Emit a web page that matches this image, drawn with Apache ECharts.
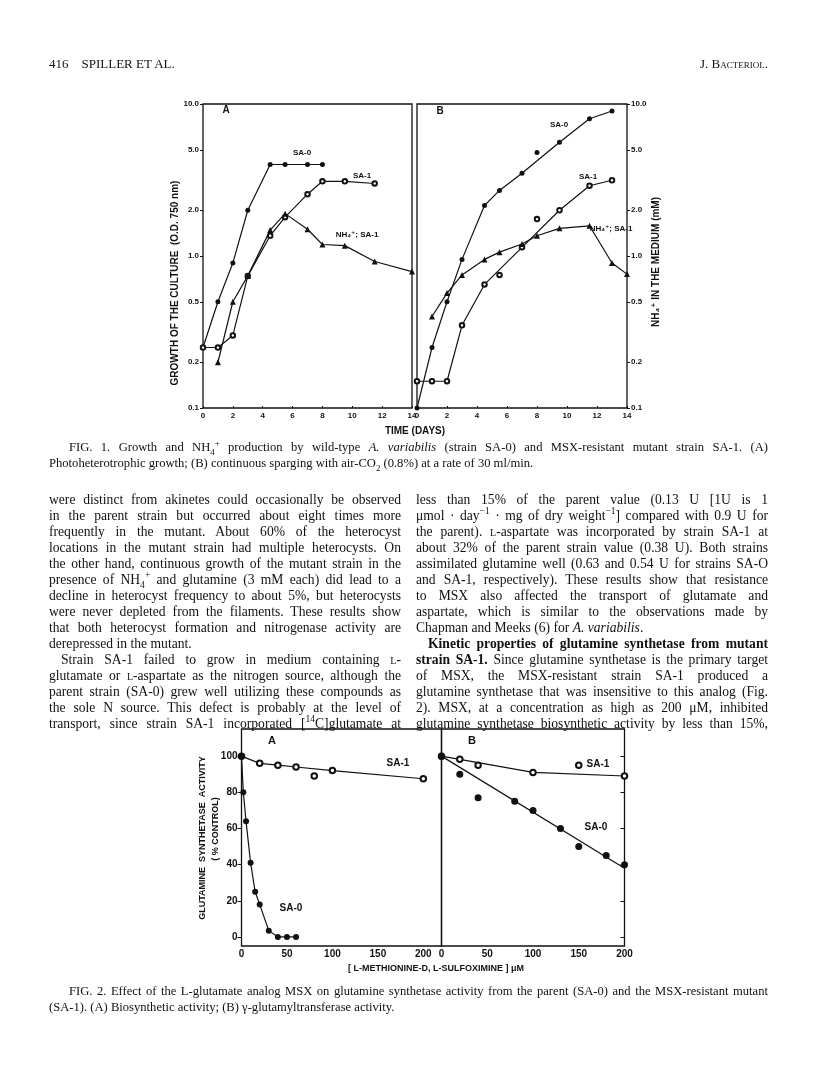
<!DOCTYPE html>
<html>
<head>
<meta charset="utf-8">
<script src="https://cdn.jsdelivr.net/npm/echarts@6.0.0/dist/echarts.min.js"></script>
<style>
body { margin: 0; background: #fff; }
#page { position: relative; width: 816px; height: 1076px; overflow: hidden; }
#main { position: absolute; left: 0; top: 0; width: 816px; height: 1076px; }
.txt { position: absolute; font-family: 'Liberation Serif', serif; color: #111; }
.col { font-size: 13.6px; width: 352px; }
.ln { height: 16px; line-height: 16px; text-align: justify; text-align-last: justify; white-space: nowrap; }
.end { text-align-last: left; }
.ind { text-indent: 12px; }
.cap { font-size: 12.6px; width: 719px; left: 49px; }
.sc { font-variant: small-caps; }
sub, sup { font-size: 70%; line-height: 0; }
</style>
</head>
<body>
<div id="page">
<div id="main"></div>

<div class="txt" style="left:49px;top:56px;font-size:13px;">416&nbsp;&nbsp;&nbsp;&nbsp;SPILLER ET AL.</div>
<div class="txt" style="right:48px;top:56px;font-size:13px;">J. B<span class="sc">acteriol</span>.</div>

<div class="txt cap" style="top:439px;">
<div class="ln" style="text-indent:20px;">FIG. 1. Growth and NH<sub>4</sub><sup>+</sup> production by wild-type <i>A. variabilis</i> (strain SA-0) and MSX-resistant mutant strain SA-1. (A)</div>
<div class="ln end">Photoheterotrophic growth; (B) continuous sparging with air-CO<sub>2</sub> (0.8%) at a rate of 30 ml/min.</div>
</div>

<div class="txt col" style="left:49px;top:492px;">
<div class="ln">were distinct from akinetes could occasionally be observed</div>
<div class="ln">in the parent strain but occurred about eight times more</div>
<div class="ln">frequently in the mutant. About 60% of the heterocyst</div>
<div class="ln">locations in the mutant strain had multiple heterocysts. On</div>
<div class="ln">the other hand, continuous growth of the mutant strain in the</div>
<div class="ln">presence of NH<sub>4</sub><sup>+</sup> and glutamine (3 mM each) did lead to a</div>
<div class="ln">decline in heterocyst frequency to about 5%, but heterocysts</div>
<div class="ln">were never depleted from the filaments. These results show</div>
<div class="ln">that both heterocyst formation and nitrogenase activity are</div>
<div class="ln end">derepressed in the mutant.</div>
<div class="ln ind">Strain SA-1 failed to grow in medium containing <span class="sc">l</span>-</div>
<div class="ln">glutamate or <span class="sc">l</span>-aspartate as the nitrogen source, although the</div>
<div class="ln">parent strain (SA-0) grew well utilizing these compounds as</div>
<div class="ln">the sole N source. This defect is probably at the level of</div>
<div class="ln">transport, since strain SA-1 incorporated [<sup>14</sup>C]glutamate at</div>
</div>

<div class="txt col" style="left:416px;top:492px;">
<div class="ln">less than 15% of the parent value (0.13 U [1U is 1</div>
<div class="ln">&mu;mol &middot; day<sup>&minus;1</sup> &middot; mg of dry weight<sup>&minus;1</sup>] compared with 0.9 U for</div>
<div class="ln">the parent). <span class="sc">l</span>-aspartate was incorporated by strain SA-1 at</div>
<div class="ln">about 32% of the parent strain value (0.38 U). Both strains</div>
<div class="ln">assimilated glutamine well (0.63 and 0.54 U for strains SA-O</div>
<div class="ln">and SA-1, respectively). These results show that resistance</div>
<div class="ln">to MSX also affected the transport of glutamate and</div>
<div class="ln">aspartate, which is similar to the observations made by</div>
<div class="ln end">Chapman and Meeks (6) for <i>A. variabilis</i>.</div>
<div class="ln ind"><b>Kinetic properties of glutamine synthetase from mutant</b></div>
<div class="ln"><b>strain SA-1.</b> Since glutamine synthetase is the primary target</div>
<div class="ln">of MSX, the MSX-resistant strain SA-1 produced a</div>
<div class="ln">glutamine synthetase that was insensitive to this analog (Fig.</div>
<div class="ln">2). MSX, at a concentration as high as 200 &mu;M, inhibited</div>
<div class="ln">glutamine synthetase biosynthetic activity by less than 15%,</div>
</div>

<div class="txt cap" style="top:983px;">
<div class="ln" style="text-indent:20px;">FIG. 2. Effect of the L-glutamate analog MSX on glutamine synthetase activity from the parent (SA-0) and the MSX-resistant mutant</div>
<div class="ln end">(SA-1). (A) Biosynthetic activity; (B) &gamma;-glutamyltransferase activity.</div>
</div>
</div>

<script>
// Fig 1 data: [day, value]
var a_sa0 = [[0,0.25],[1,0.5],[2,0.9],[3,2.0],[4.5,4.0],[5.5,4.0],[7,4.0],[8,4.0]];
var a_sa1 = [[0,0.25],[1,0.25],[2,0.3],[3,0.74],[4.5,1.36],[5.5,1.8],[7,2.55],[8,3.1],[9.5,3.1],[11.5,3.0]];
var a_nh4 = [[1,0.2],[2,0.5],[3,0.74],[4.5,1.48],[5.5,1.9],[7,1.5],[8,1.19],[9.5,1.17],[11.5,0.92],[14,0.79]];
var b_sa0 = [[0,0.1],[1,0.25],[2,0.5],[3,0.95],[4.5,2.15],[5.5,2.7],[7,3.5],[9.5,5.6],[11.5,8.0],[13,9.0]];
var b_sa0_off = [[8,4.8]];
var b_sa1 = [[0,0.15],[1,0.15],[2,0.15],[3,0.35],[4.5,0.65],[7,1.14],[9.5,2.0],[11.5,2.9],[13,3.15]];
var b_sa1_off = [[5.5,0.75],[8,1.75]];
var b_nh4 = [[1,0.4],[2,0.57],[3,0.75],[4.5,0.95],[5.5,1.06],[7,1.2],[8,1.36],[9.5,1.52],[11.5,1.58],[13,0.9],[14,0.76]];
var logTicks = [0.1,0.2,0.5,1,2,5,10];

// Fig 2 data: [uM MSX, % control]
var f2a_sa1 = [[0,100],[20,96],[40,95],[60,94],[100,92],[200,87.5]];
var f2a_sa1_off = [[80,89]];
var f2a_sa0 = [[0,100],[2,80],[5,64],[10,41],[15,25],[20,18],[30,3.5],[40,0],[50,0],[60,0]];
var f2b_sa1 = [[0,100],[20,98.3],[40,95],[100,91],[150,95],[200,89]];
var f2b_sa1_fit = [[0,100],[100,91],[200,89]];
var f2b_sa0 = [[0,100],[20,90],[40,77],[80,75],[100,70],[130,60],[150,50],[180,45],[200,40]];
var f2b_sa0_fit = [[0,100],[200,38]];
var pctTicks = [0,20,40,60,80,100];

var ink = '#111';
var sans = 'Liberation Sans, DejaVu Sans, sans-serif';

function label(x, y, text, size, rot) {
    return {
        type: 'text', x: x, y: y, rotation: rot || 0,
        style: { text: text, fill: ink, font: 'bold ' + (size || 9) + 'px ' + sans, align: 'center', verticalAlign: 'middle' }
    };
}
function lineS(xi, data, symbol, size) {
    return { type: 'line', xAxisIndex: xi, yAxisIndex: xi, data: data, symbol: symbol, symbolSize: size,
        showSymbol: true, lineStyle: { color: ink, width: 1.2 }, itemStyle: { color: ink, borderWidth: 1, opacity: 1 },
        emphasis: { disabled: true }, z: 3 };
}
function dotS(xi, data, symbol, size) {
    return { type: 'scatter', xAxisIndex: xi, yAxisIndex: xi, data: data, symbol: symbol, symbolSize: size,
        itemStyle: { color: ink, borderWidth: 1, opacity: 1 }, emphasis: { disabled: true }, z: 4 };
}
function fitS(xi, data) {
    return { type: 'line', xAxisIndex: xi, yAxisIndex: xi, data: data, symbol: 'none', lineStyle: { color: ink, width: 1.2 }, z: 2 };
}
var tickFont = { color: ink, fontFamily: sans, fontWeight: 'bold' };

function logAxis(gi, pos) {
    return {
        type: 'log', logBase: 10, gridIndex: gi, min: 0.1, max: 10, position: pos,
        axisLine: { show: false, onZero: false }, splitLine: { show: false },
        axisTick: { show: true, inside: false, length: 3, customValues: logTicks, lineStyle: { color: ink } },
        axisLabel: Object.assign({ fontSize: 8, margin: 4, customValues: logTicks,
            formatter: function (v) { return (+v).toFixed(1); } }, tickFont)
    };
}
function dayAxis(gi) {
    return {
        type: 'value', gridIndex: gi, min: 0, max: 14, interval: 2,
        axisLine: { show: false, onZero: false }, splitLine: { show: false },
        axisTick: { show: true, inside: true, length: 2, lineStyle: { color: ink } },
        axisLabel: Object.assign({ fontSize: 8, margin: 4 }, tickFont)
    };
}
function pctAxis(gi, pos, showLabel) {
    return {
        type: 'value', gridIndex: gi, min: -5, max: 115, position: pos,
        axisLine: { show: false, onZero: false }, splitLine: { show: false },
        axisTick: { show: true, inside: !showLabel, length: 4, customValues: pctTicks, lineStyle: { color: ink } },
        axisLabel: Object.assign({ show: showLabel, fontSize: 10, margin: 4, customValues: pctTicks }, tickFont)
    };
}
function concAxis(gi, max) {
    return {
        type: 'value', gridIndex: gi, min: 0, max: max, interval: 50,
        axisLine: { show: false, onZero: false }, splitLine: { show: false }, axisTick: { show: false },
        axisLabel: Object.assign({ fontSize: 10, margin: 3, showMaxLabel: max == 200 }, tickFont)
    };
}

var myChart = echarts.init(document.getElementById('main'), null, { renderer: 'canvas' });
var box = { show: true, borderColor: ink, borderWidth: 1.3, backgroundColor: 'transparent' };
option = {
    animation: false,
    grid: [
        Object.assign({ left: 203, top: 104, width: 209, height: 304 }, box),
        Object.assign({ left: 417, top: 104, width: 210, height: 304 }, box),
        Object.assign({ left: 241.5, top: 729, width: 200, height: 217 }, box),
        Object.assign({ left: 441.5, top: 729, width: 183, height: 217 }, box)
    ],
    xAxis: [dayAxis(0), dayAxis(1), concAxis(2, 220), concAxis(3, 200)],
    yAxis: [logAxis(0, 'left'), logAxis(1, 'right'), pctAxis(2, 'left', true), pctAxis(3, 'right', false)],
    series: [
        lineS(0, a_sa0, 'circle', 5),
        lineS(0, a_sa1, 'emptyCircle', 4.5),
        lineS(0, a_nh4, 'triangle', 6),
        lineS(1, b_sa0, 'circle', 5),
        dotS(1, b_sa0_off, 'circle', 5),
        lineS(1, b_sa1, 'emptyCircle', 4.5),
        dotS(1, b_sa1_off, 'emptyCircle', 4.5),
        lineS(1, b_nh4, 'triangle', 6),
        lineS(2, f2a_sa1, 'emptyCircle', 5.5),
        dotS(2, f2a_sa1_off, 'emptyCircle', 5.5),
        lineS(2, f2a_sa0, 'circle', 6),
        fitS(3, f2b_sa1_fit),
        dotS(3, f2b_sa1, 'emptyCircle', 5.5),
        fitS(3, f2b_sa0_fit),
        dotS(3, f2b_sa0, 'circle', 7)
    ],
    graphic: [
        label(226, 110, 'A', 10), label(302, 153, 'SA-0', 8), label(362, 176, 'SA-1', 8), label(357, 235, 'NH₄⁺; SA-1', 8),
        label(440, 111, 'B', 10), label(559, 125, 'SA-0', 8), label(588, 177, 'SA-1', 8), label(611, 229, 'NH₄⁺; SA-1', 8),
        label(415, 431, 'TIME (DAYS)', 10),
        label(175, 283, 'GROWTH OF THE CULTURE  (O.D. 750 nm)', 10, Math.PI / 2),
        label(656, 262, 'NH₄⁺ IN THE MEDIUM (mM)', 10, Math.PI / 2),
        label(272, 741, 'A', 11), label(398, 763, 'SA-1', 10), label(291, 908, 'SA-0', 10),
        label(472, 741, 'B', 11), label(598, 764, 'SA-1', 10), label(596, 827, 'SA-0', 10),
        label(203, 838, 'GLUTAMINE  SYNTHETASE  ACTIVITY', 9, Math.PI / 2),
        label(216, 829, '( % CONTROL)', 9, Math.PI / 2),
        label(436, 969, '[ L-METHIONINE-D, L-SULFOXIMINE ] μM', 9)
    ]
};
myChart.setOption(option);
</script>
</body>
</html>
